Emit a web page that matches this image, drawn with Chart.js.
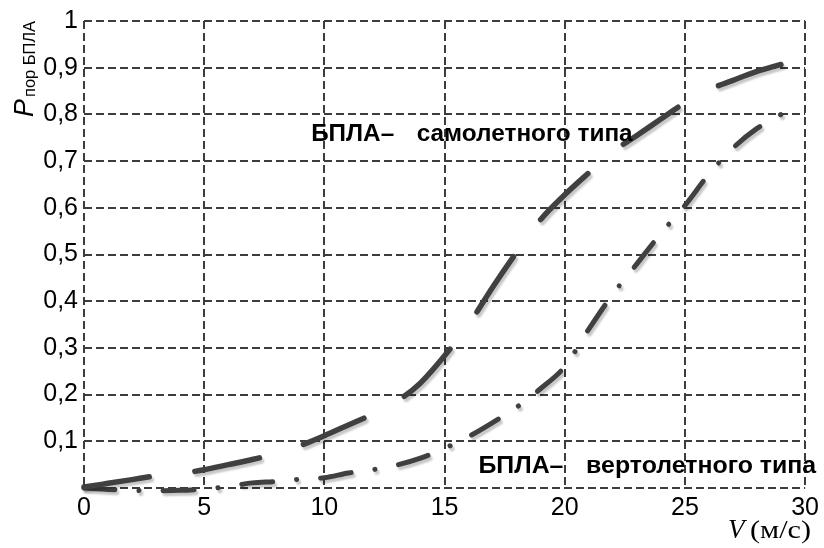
<!DOCTYPE html>
<html>
<head>
<meta charset="utf-8">
<script src="https://cdn.jsdelivr.net/npm/chart.js@4/dist/chart.umd.min.js"></script>
<style>
  html, body { margin: 0; padding: 0; background: #fff; }
  #wrap { width: 824px; height: 548px; }
</style>
</head>
<body>
<div id="wrap"><canvas id="c" width="824" height="548"></canvas></div>
<script>
// Speed V (m/s)
const speeds = [0,1,2,3,4,5,6,7,8,9,10,11,12,13,14,15,16,17,18,19,20,21,22,23,24,25,26,27,28,29];
// P пор for fixed-wing UAV (самолетного типа)
const planeValues = [0.002,0.010,0.018,0.026,0.031,0.039,0.050,0.061,0.074,0.091,0.112,0.135,0.158,0.185,0.225,0.283,0.350,0.430,0.505,0.575,0.628,0.675,0.720,0.755,0.790,0.825,0.853,0.873,0.892,0.907];
// P пор for rotary-wing UAV (вертолетного типа)
const heliValues = [0.000,-0.003,-0.005,-0.006,-0.005,-0.002,0.003,0.011,0.014,0.019,0.022,0.032,0.039,0.049,0.064,0.085,0.110,0.140,0.173,0.213,0.260,0.340,0.415,0.480,0.545,0.605,0.672,0.728,0.770,0.800];
const xTickLabels = ['0','5','10','15','20','25','30'];
const yTickLabels = ['','0,1','0,2','0,3','0,4','0,5','0,6','0,7','0,8','0,9','1'];
const seriesNames = ['БПЛА– самолетного типа','БПЛА– вертолетного типа'];

const toPts = (xs, ys) => xs.map((x, i) => ({x: x, y: ys[i]}));

const lineColor = '#404040';
const gridColor = '#3c3c3c';
const tickFont = {family: 'Liberation Sans', size: 25};

function drawFit(ctx, text, x, y, w) {
  const m = ctx.measureText(text).width;
  ctx.save();
  ctx.translate(x, y);
  ctx.scale(w / m, 1);
  ctx.fillText(text, 0, 0);
  ctx.restore();
}

const textPlugin = {
  id: 'texts',
  afterDraw(chart) {
    const ctx = chart.ctx;
    const xs = chart.scales.x, ys = chart.scales.y;
    ctx.save();
    ctx.fillStyle = '#000';
    ctx.textBaseline = 'alphabetic';
    ctx.textAlign = 'left';
    ctx.font = 'bold 23px "Liberation Sans"';
    // label 1
    drawFit(ctx, seriesNames[0].split(' ')[0], xs.getPixelForValue(9.45), ys.getPixelForValue(0.744), 83);
    drawFit(ctx, 'самолетного типа', xs.getPixelForValue(13.84), ys.getPixelForValue(0.744), 216);
    // label 2
    drawFit(ctx, seriesNames[1].split(' ')[0], xs.getPixelForValue(16.41), ys.getPixelForValue(0.032), 85);
    drawFit(ctx, 'вертолетного типа', xs.getPixelForValue(20.89), ys.getPixelForValue(0.032), 230);

    // x axis title
    ctx.font = 'italic 27px "Liberation Serif"';
    ctx.fillText('V', 728, 538);
    ctx.font = '26px "Liberation Serif"';
    drawFit(ctx, '(м/с)', 750, 538, 61);

    // y axis title (rotated)
    ctx.translate(33, 117);
    ctx.rotate(-Math.PI / 2);
    ctx.font = 'italic 27px "Liberation Sans"';
    ctx.fillText('P', 0, 0);
    const pw = ctx.measureText('P').width;
    ctx.font = '17px "Liberation Sans"';
    drawFit(ctx, 'пор БПЛА', pw + 2, 2, 76);
    ctx.restore();
  }
};

const shadowPlugin = {
  id: 'shadow',
  beforeDatasetsDraw(chart) {
    const ctx = chart.ctx;
    ctx.save();
    ctx.shadowColor = 'rgba(0,0,0,0.22)';
    ctx.shadowBlur = 2;
    ctx.shadowOffsetX = 2;
    ctx.shadowOffsetY = 3;
  },
  afterDatasetsDraw(chart) {
    chart.ctx.restore();
  }
};

new Chart(document.getElementById('c'), {
  type: 'line',
  data: {
    datasets: [
      {
        label: seriesNames[0],
        data: toPts(speeds, planeValues),
        borderColor: lineColor,
        borderWidth: 5.5,
        borderDash: [66, 46],
        borderCapStyle: 'round',
        pointRadius: 0,
        cubicInterpolationMode: 'monotone',
        clip: false,
        fill: false
      },
      {
        label: seriesNames[1],
        data: toPts(speeds, heliValues),
        borderColor: lineColor,
        borderWidth: 5,
        borderDash: [31, 24, 0.1, 24],
        borderCapStyle: 'round',
        pointRadius: 0,
        cubicInterpolationMode: 'monotone',
        clip: false,
        fill: false
      }
    ]
  },
  options: {
    responsive: false,
    animation: false,
    layout: { padding: { top: 19, right: 16, left: 0, bottom: 0 } },
    plugins: { legend: { display: false }, tooltip: { enabled: false } },
    scales: {
      x: {
        type: 'linear',
        min: 0, max: 30,
        afterFit(s) { s.height = 60; },
        afterBuildTicks(s) { s.ticks = xTickLabels.map(v => ({value: Number(v)})); },
        ticks: {
          color: '#000',
          font: tickFont,
          padding: 5,
          maxRotation: 0,
          callback: (v, i) => xTickLabels[i]
        },
        grid: { color: gridColor, lineWidth: 2, drawTicks: false },
        border: { display: false, dash: [8, 4] }
      },
      y: {
        min: 0, max: 1,
        afterFit(s) { s.width = 84; },
        afterBuildTicks(s) { s.ticks = yTickLabels.map((t, i) => ({value: i / 10})); },
        ticks: {
          color: '#000',
          font: tickFont,
          padding: 6,
          callback: (v, i) => yTickLabels[i]
        },
        grid: { color: gridColor, lineWidth: 2, drawTicks: false },
        border: { display: false, dash: [8, 4] }
      }
    }
  },
  plugins: [shadowPlugin, textPlugin]
});
</script>
</body>
</html>
